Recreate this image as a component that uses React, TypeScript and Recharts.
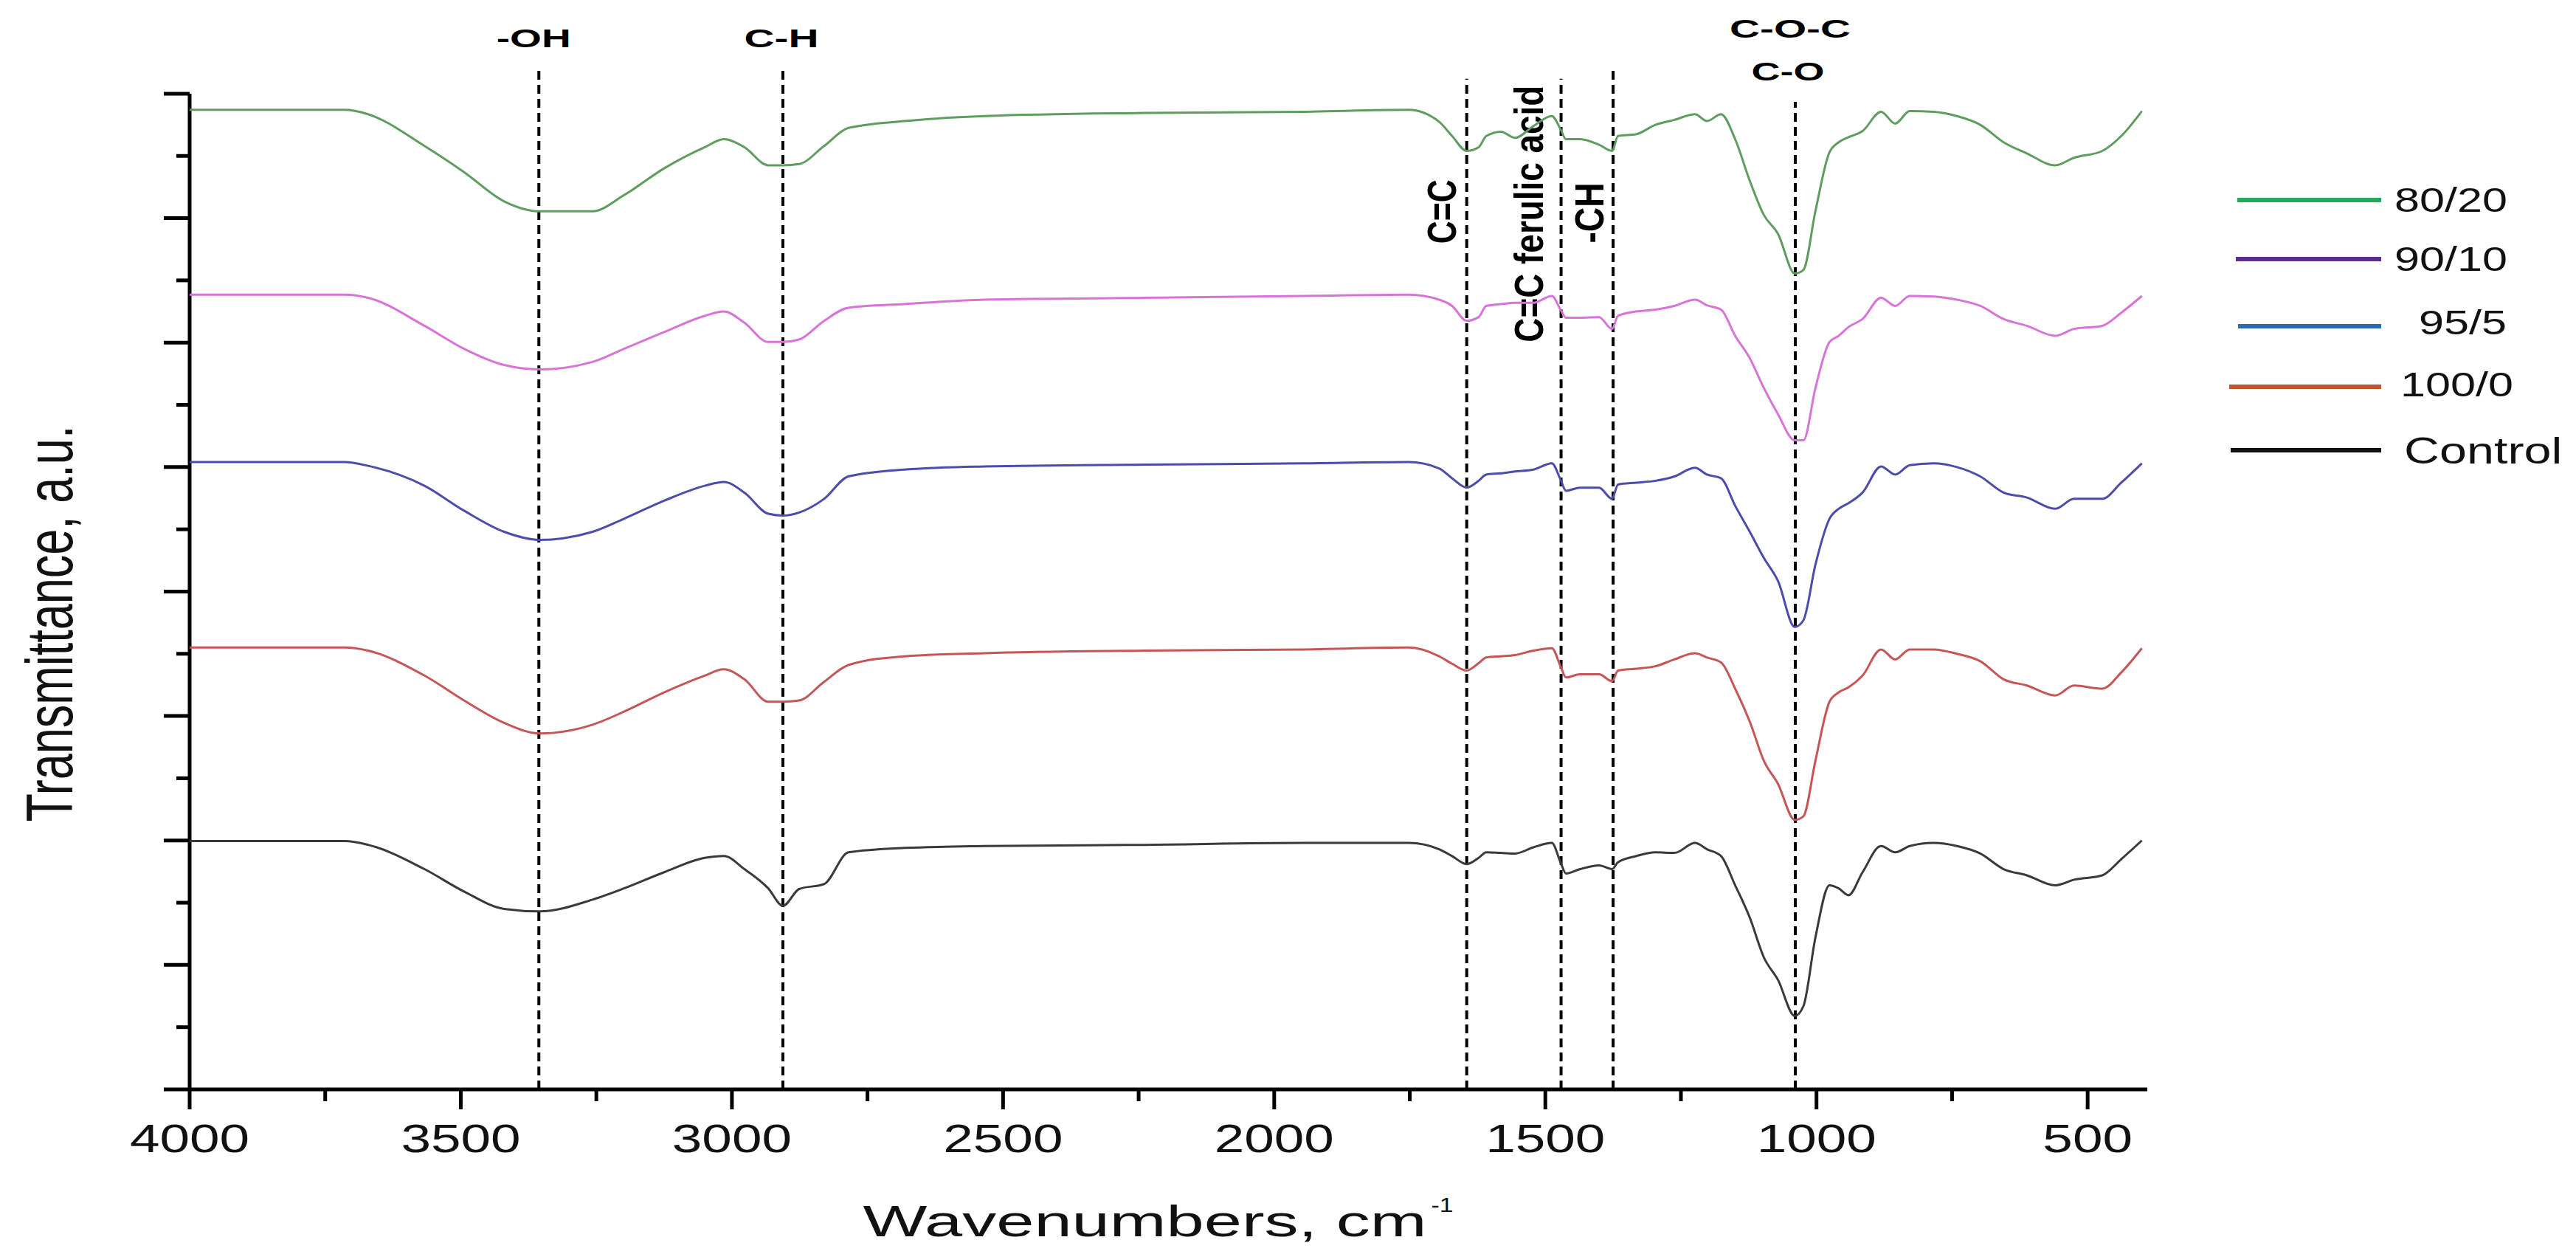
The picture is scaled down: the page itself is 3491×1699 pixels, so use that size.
import { LineChart, Line, XAxis, YAxis, ReferenceLine, Legend } from 'recharts'

// FTIR spectra, wavenumber (cm-1) vs stacked transmittance (a.u.)
const WAVENUMBERS = [
  4000, 3714, 3671, 3567, 3494, 3420, 3354, 3257, 3199, 3125,
  3050, 3015, 2977, 2933, 2906, 2876, 2830, 2785, 2682, 2534,
  2239, 1944, 1752, 1696, 1672, 1645, 1623, 1609, 1582, 1556,
  1522, 1488, 1472, 1462, 1436, 1401, 1377, 1366, 1332, 1297,
  1262, 1224, 1202, 1176, 1150, 1123, 1097, 1071, 1040, 1024,
  1002, 976, 959, 941, 915, 881, 855, 828, 784, 741,
  698, 655, 612, 560, 525, 473, 438, 400,
]

const T_80_20 = [
  15.74, 15.74, 15.67, 15.16, 14.74, 14.27, 14.11, 14.11, 14.37, 14.8,
  15.14, 15.27, 15.14, 14.85, 14.85, 14.87, 15.16, 15.45, 15.56, 15.64,
  15.69, 15.71, 15.74, 15.55, 15.32, 15.08, 15.14, 15.32, 15.39, 15.29,
  15.48, 15.64, 15.43, 15.27, 15.27, 15.18, 15.08, 15.32, 15.35, 15.5,
  15.58, 15.67, 15.56, 15.67, 15.27, 14.6, 14.05, 13.75, 13.11, 13.17,
  14.11, 15.06, 15.22, 15.3, 15.4, 15.71, 15.52, 15.72, 15.71, 15.64,
  15.5, 15.22, 15.04, 14.85, 14.97, 15.08, 15.32, 15.72,
]

const T_90_10 = [
  12.77, 12.77, 12.72, 12.27, 11.9, 11.64, 11.57, 11.69, 11.9, 12.17,
  12.43, 12.5, 12.32, 12.01, 12.01, 12.05, 12.35, 12.56, 12.62, 12.69,
  12.72, 12.75, 12.77, 12.69, 12.59, 12.35, 12.41, 12.59, 12.62, 12.64,
  12.64, 12.75, 12.53, 12.4, 12.4, 12.41, 12.22, 12.43, 12.5, 12.53,
  12.59, 12.69, 12.6, 12.53, 12.11, 11.75, 11.27, 10.85, 10.43, 10.43,
  11.27, 12.01, 12.11, 12.25, 12.38, 12.72, 12.59, 12.75, 12.74, 12.69,
  12.59, 12.38, 12.27, 12.11, 12.22, 12.27, 12.48, 12.75,
]

const T_95_5 = [
  10.08, 10.08, 10.02, 9.7, 9.3, 8.96, 8.83, 8.96, 9.17, 9.46,
  9.7, 9.76, 9.59, 9.25, 9.22, 9.27, 9.49, 9.85, 9.96, 10.01,
  10.04, 10.06, 10.08, 9.98, 9.82, 9.67, 9.78, 9.88, 9.9, 9.93,
  9.96, 10.06, 9.8, 9.62, 9.67, 9.67, 9.49, 9.72, 9.75, 9.78,
  9.85, 9.99, 9.88, 9.82, 9.38, 8.96, 8.54, 8.17, 7.43, 7.54,
  8.43, 9.17, 9.33, 9.42, 9.59, 10.01, 9.88, 10.03, 10.06, 10.0,
  9.85, 9.59, 9.51, 9.33, 9.49, 9.49, 9.75, 10.06,
]

const T_100_0 = [
  7.1, 7.1, 7.05, 6.65, 6.25, 5.89, 5.72, 5.86, 6.07, 6.38,
  6.65, 6.75, 6.59, 6.23, 6.23, 6.25, 6.55, 6.82, 6.96, 7.01,
  7.05, 7.07, 7.1, 6.96, 6.84, 6.73, 6.85, 6.94, 6.96, 6.98,
  7.05, 7.09, 6.8, 6.62, 6.67, 6.67, 6.56, 6.73, 6.76, 6.8,
  6.91, 7.01, 6.94, 6.86, 6.44, 5.91, 5.28, 4.91, 4.33, 4.39,
  5.28, 6.23, 6.38, 6.46, 6.65, 7.07, 6.91, 7.07, 7.07, 7.0,
  6.88, 6.59, 6.49, 6.33, 6.49, 6.44, 6.7, 7.09,
]

const T_CONTROL = [
  3.99, 3.99, 3.93, 3.54, 3.18, 2.9, 2.86, 3.05, 3.23, 3.49,
  3.72, 3.75, 3.54, 3.23, 2.95, 3.22, 3.3, 3.81, 3.88, 3.91,
  3.93, 3.96, 3.96, 3.86, 3.75, 3.62, 3.72, 3.81, 3.8, 3.79,
  3.89, 3.96, 3.65, 3.47, 3.54, 3.6, 3.54, 3.65, 3.75, 3.81,
  3.8, 3.96, 3.86, 3.75, 3.28, 2.76, 2.12, 1.76, 1.18, 1.34,
  2.44, 3.28, 3.23, 3.12, 3.49, 3.91, 3.81, 3.91, 3.96, 3.91,
  3.79, 3.54, 3.44, 3.28, 3.37, 3.44, 3.7, 4.0,
]

const SERIES_KEYS = ['s8020', 's9010', 's955', 's1000', 'control']
const SERIES_NAMES = ['80/20', '90/10', '95/5', '100/0', 'Control']
const LINE_COLORS = ['#5f9d5f', '#d873d8', '#4c4cad', '#c65656', '#3a3a3a']
const LEGEND_COLORS = ['#23a75b', '#5c2d90', '#2b6cb1', '#c1542d', '#111111']

const X_TICKS = [4000, 3750, 3500, 3250, 3000, 2750, 2500, 2250, 2000, 1750, 1500, 1250, 1000, 750, 500]
const Y_TICKS = [0, 1, 2, 3, 4, 5, 6, 7, 8, 9, 10, 11, 12, 13, 14, 15, 16]

// assigned bands: label lines, wavenumber, top of the dashed marker
const BAND_LABELS = [['-OH'], ['C-H'], ['C=C'], ['C=C ferulic acid'], ['-CH'], ['C-O-C', 'C-O']]
const BAND_WN = [3356, 2906, 1645, 1471, 1375, 1039]
const BAND_TOP = [16.42, 16.42, 16.24, 16.24, 16.42, 15.87]

const rows = WAVENUMBERS.map((wn, i) => ({
  wn,
  s8020: T_80_20[i],
  s9010: T_90_10[i],
  s955: T_95_5[i],
  s1000: T_100_0[i],
  control: T_CONTROL[i],
}))

const FONT = '"Liberation Sans", Arial, Helvetica, sans-serif'

// label placement relative to the top of each dashed line
const BAND_STYLE: Record<string, { dx: number; dy: number; len: number; rot?: boolean }> = {
  '-OH': { dx: -7, dy: -28, len: 101 },
  'C-H': { dx: -2, dy: -28, len: 101 },
  'C=C': { dx: -15, dy: 180, len: 87, rot: true },
  'C=C ferulic acid': { dx: -25, dy: 183, len: 348, rot: true },
  '-CH': { dx: -13, dy: 197, len: 82, rot: true },
  'C-O-C': { dx: -7, dy: -87, len: 164 },
  'C-O': { dx: -10, dy: -29, len: 99 },
}

const LEGEND_LAYOUT = [
  { x1: 32, ly: 51, tx: 245, ty: 67, fs: 46 },
  { x1: 30, ly: 131, tx: 245, ty: 147, fs: 46 },
  { x1: 33, ly: 222, tx: 278, ty: 233, fs: 46 },
  { x1: 21, ly: 304, tx: 253, ty: 317, fs: 46 },
  { x1: 23, ly: 390, tx: 258, ty: 408, fs: 50 },
]

function XTick(props: any) {
  const { x, y, payload } = props
  const major = payload.value % 500 === 0
  return (
    <g>
      <line x1={x} x2={x} y1={y} y2={y + (major ? 27 : 16)} stroke="#000" strokeWidth={5} />
      {major && (
        <text
          transform={`translate(${x},${y + 85}) scale(1.35,1)`}
          textAnchor="middle"
          fontFamily={FONT}
          fontSize={54}
          fill="#111"
        >
          {payload.value}
        </text>
      )}
    </g>
  )
}

function YTick(props: any) {
  const { x, y, payload } = props
  const major = payload.value % 2 === 0
  return <line x1={x - (major ? 35 : 18)} x2={x} y1={y} y2={y} stroke="#000" strokeWidth={5} />
}

function XLabel(props: any) {
  const { viewBox } = props
  const cx = viewBox.x + viewBox.width / 2
  const base = viewBox.y + 199
  return (
    <g fontFamily={FONT} fill="#111">
      <text x={cx - 414} y={base} fontSize={60} textLength={764} lengthAdjust="spacingAndGlyphs">
        Wavenumbers, cm
      </text>
      <text x={cx + 356} y={base - 33} fontSize={28} textLength={30} lengthAdjust="spacingAndGlyphs">
        -1
      </text>
    </g>
  )
}

function YLabel(props: any) {
  const { viewBox } = props
  return (
    <text
      transform={`translate(${viewBox.x - 99},${viewBox.y + 756}) scale(1.4,1) rotate(-90)`}
      textAnchor="middle"
      fontFamily={FONT}
      fontSize={63}
      fill="#111"
    >
      Transmittance, a.u.
    </text>
  )
}

function bandLabel(lines: string[]) {
  return (props: any) => {
    const { viewBox } = props
    return (
      <g fontFamily={FONT} fontWeight="bold" fill="#000">
        {lines.map((t) => {
          const s = BAND_STYLE[t]
          const x = viewBox.x + s.dx
          const y = viewBox.y + s.dy
          if (s.rot) {
            return (
              <text
                key={t}
                transform={`translate(${x},${y}) scale(1.4,1) rotate(-90)`}
                textAnchor="middle"
                fontSize={40}
                textLength={s.len}
                lengthAdjust="spacingAndGlyphs"
              >
                {t}
              </text>
            )
          }
          return (
            <text key={t} x={x} y={y} textAnchor="middle" fontSize={35} textLength={s.len} lengthAdjust="spacingAndGlyphs">
              {t}
            </text>
          )
        })}
      </g>
    )
  }
}

function LegendBox() {
  return (
    <svg width={491} height={430}>
      {SERIES_NAMES.map((name, i) => {
        const l = LEGEND_LAYOUT[i]
        return (
          <g key={name}>
            <line x1={l.x1} x2={227} y1={l.ly} y2={l.ly} stroke={LEGEND_COLORS[i]} strokeWidth={6} />
            <text
              transform={`translate(${l.tx},${l.ty}) scale(1.33,1)`}
              fontFamily={FONT}
              fontSize={l.fs}
              fill="#111"
            >
              {name}
            </text>
          </g>
        )
      })}
    </svg>
  )
}

export default function App() {
  return (
    <div style={{ position: 'absolute', left: 0, top: 0, width: 3491, height: 1699, background: '#fff' }}>
      <LineChart width={3491} height={1699} data={rows} margin={{ top: 89, right: 581, bottom: 23, left: 197 }}>
        <XAxis
          dataKey="wn"
          type="number"
          domain={[390, 4000]}
          reversed
          allowDataOverflow
          ticks={X_TICKS}
          interval={0}
          tick={<XTick />}
          tickLine={false}
          tickSize={0}
          tickMargin={0}
          axisLine={{ stroke: '#000', strokeWidth: 5 }}
          height={200}
          label={XLabel}
        />
        <YAxis
          type="number"
          domain={[0, 16.45]}
          allowDataOverflow
          ticks={Y_TICKS}
          interval={0}
          tick={<YTick />}
          tickLine={false}
          tickSize={0}
          tickMargin={0}
          axisLine={false}
          width={60}
          label={YLabel}
        />
        <ReferenceLine
          segment={[
            { x: 4000, y: 0 },
            { x: 4000, y: 16 },
          ]}
          stroke="#000"
          strokeWidth={5}
        />
        {BAND_WN.map((wn, i) => (
          <ReferenceLine
            key={wn}
            segment={[
              { x: wn, y: 0 },
              { x: wn, y: BAND_TOP[i] },
            ]}
            stroke="#000"
            strokeWidth={4}
            strokeDasharray="12 7"
            label={bandLabel(BAND_LABELS[i])}
          />
        ))}
        {SERIES_KEYS.map((k, i) => (
          <Line
            key={k}
            dataKey={k}
            name={SERIES_NAMES[i]}
            type="monotone"
            stroke={LINE_COLORS[i]}
            strokeWidth={3}
            dot={false}
            activeDot={false}
            isAnimationActive={false}
          />
        ))}
        <Legend
          layout="horizontal"
          verticalAlign="middle"
          align="center"
          content={LegendBox}
          wrapperStyle={{ position: 'absolute', left: 3000, top: 220, width: 491, height: 430 }}
        />
      </LineChart>
    </div>
  )
}
